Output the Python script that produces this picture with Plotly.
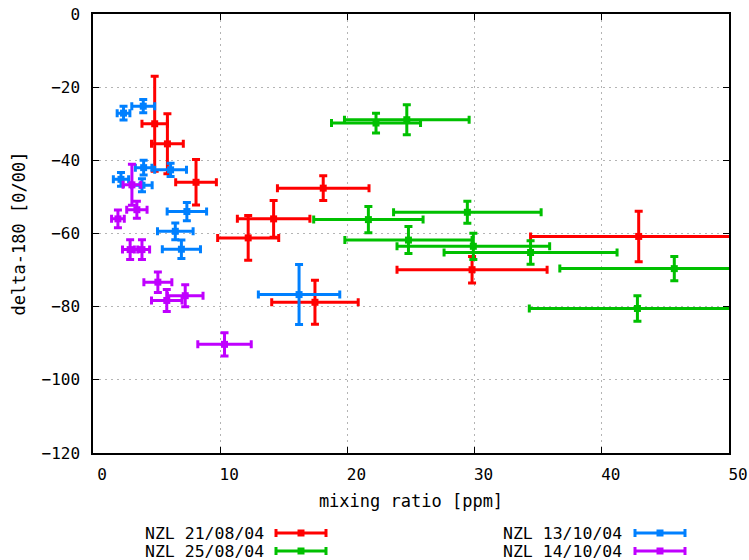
import plotly.graph_objects as go

# ---- data ----
series_names = ["NZL 21/08/04", "NZL 25/08/04", "NZL 13/10/04", "NZL 14/10/04"]

red_x = [4.85, 5.85, 8.1, 18.1, 14.2, 12.2, 17.45, 29.8, 42.9]
red_y = [-30.0, -35.5, -46.0, -47.6, -56.0, -61.2, -78.8, -69.9, -60.8]
red_xerr = [1.0, 1.25, 1.6, 3.6, 2.85, 2.4, 3.4, 5.9, 8.5]
red_yerr = [13.0, 8.2, 6.2, 3.4, 5.0, 6.1, 6.0, 3.6, 6.9]

green_x = [22.25, 24.67, 21.65, 29.43, 24.8, 29.9, 34.4, 45.7, 42.8]
green_y = [-29.8, -28.9, -56.2, -54.2, -61.8, -63.5, -65.2, -69.6, -80.5]
green_xerr = [3.5, 4.9, 4.3, 5.8, 5.0, 6.0, 6.8, 9.0, 8.5]
green_yerr = [2.7, 4.1, 3.6, 3.0, 3.7, 3.6, 3.2, 3.3, 3.5]

blue_x = [2.4, 3.95, 6.1, 3.98, 2.2, 3.85, 7.38, 6.47, 6.95, 16.2]
blue_y = [-27.1, -25.2, -42.6, -42.0, -45.2, -46.8, -54.0, -59.4, -64.3, -76.7]
blue_xerr = [0.5, 0.9, 1.25, 0.65, 0.6, 0.8, 1.55, 1.4, 1.5, 3.2]
blue_yerr = [1.9, 1.8, 1.8, 2.0, 1.9, 1.8, 2.5, 2.3, 2.5, 8.2]

purple_x = [3.06, 3.45, 1.96, 2.92, 3.85, 5.1, 5.8, 7.25, 10.34]
purple_y = [-46.7, -53.5, -56.0, -64.4, -64.4, -73.3, -78.3, -77.0, -90.3]
purple_xerr = [0.7, 0.8, 0.5, 0.6, 0.6, 1.1, 1.2, 1.4, 2.1]
purple_yerr = [5.6, 2.3, 2.4, 2.7, 2.7, 2.8, 3.0, 3.0, 3.2]

x_ticks = [0, 10, 20, 30, 40, 50]
y_ticks = [0, -20, -40, -60, -80, -100, -120]

# ---- style ----
colors = ["#ff0000", "#00c000", "#0080ff", "#c000ff"]
FONT = "DejaVu Sans Mono"
W, H = 749, 560
L, R, T, B = 93, 20, 14, 107
PW, PH = W - L - R, H - T - B

series = [
    (red_x, red_y, red_xerr, red_yerr),
    (green_x, green_y, green_xerr, green_yerr),
    (blue_x, blue_y, blue_xerr, blue_yerr),
    (purple_x, purple_y, purple_xerr, purple_yerr),
]

fig = go.Figure()
for name, col, (xs, ys, xe, ye) in zip(series_names, colors, series):
    fig.add_trace(go.Scatter(
        x=xs, y=ys, mode="markers", name=name, showlegend=False,
        marker=dict(symbol="square", size=7, color=col),
        error_x=dict(type="data", array=xe, color=col, thickness=3, width=4),
        error_y=dict(type="data", array=ye, color=col, thickness=3, width=4),
    ))

def px_x(p):
    return (p - L) / PW

def px_y(p):
    return (H - B - p) / PH

# custom legend (text left, sample on the right), two columns
leg_pos = [(266, 276, 533), (266, 276, 551), (624, 635, 533), (624, 635, 551)]
shapes = []
annotations = []
for name, col, (tx, sx, sy) in zip(series_names, colors, leg_pos):
    annotations.append(dict(
        x=px_x(tx), y=px_y(sy), xref="paper", yref="paper", text=name,
        showarrow=False, xanchor="right", yanchor="middle",
        font=dict(family=FONT, size=16.5, color="black")))
    sw = 50
    shapes.append(dict(type="line", xref="paper", yref="paper",
                       x0=px_x(sx), x1=px_x(sx + sw), y0=px_y(sy), y1=px_y(sy),
                       line=dict(color=col, width=3)))
    for cx in (sx, sx + sw):
        shapes.append(dict(type="line", xref="paper", yref="paper",
                           x0=px_x(cx), x1=px_x(cx), y0=px_y(sy - 4), y1=px_y(sy + 4),
                           line=dict(color=col, width=3)))
    shapes.append(dict(type="rect", xref="paper", yref="paper",
                       x0=px_x(sx + sw / 2 - 3.5), x1=px_x(sx + sw / 2 + 3.5),
                       y0=px_y(sy + 3.5), y1=px_y(sy - 3.5),
                       line=dict(width=0), fillcolor=col))

axis_common = dict(
    showline=True, linecolor="black", linewidth=1.5, mirror="ticks",
    ticks="inside", ticklen=6, tickcolor="black", tickwidth=1,
    showgrid=True, gridcolor="#b4b4b4", griddash="2px,4px", gridwidth=1,
    zeroline=False, tickfont=dict(family=FONT, size=16, color="black"),
    automargin=False, ticklabeloverflow="allow",
)

fig.update_layout(
    width=W, height=H,
    margin=dict(l=L, r=R, t=T, b=B),
    paper_bgcolor="white", plot_bgcolor="white",
    showlegend=False,
    xaxis=dict(range=[0, 50], tickvals=x_ticks, ticktext=[str(v) for v in x_ticks],
               ticklabelshift=9, ticklabelstandoff=6,
               title=dict(text="mixing ratio [ppm]", standoff=12,
                          font=dict(family=FONT, size=17, color="black")),
               **axis_common),
    yaxis=dict(range=[-120, 0], tickvals=y_ticks, ticktext=[str(v).replace("-", "\u2212") for v in y_ticks],
               ticklabelstandoff=8,
               title=dict(text="delta-180 [0/00]", standoff=12,
                          font=dict(family=FONT, size=17, color="black")),
               **axis_common),
    shapes=shapes,
    annotations=annotations,
)

fig.write_html("out.html", config={"displayModeBar": False},
               post_script="document.body.style.margin='0';document.body.style.overflow='hidden';")
